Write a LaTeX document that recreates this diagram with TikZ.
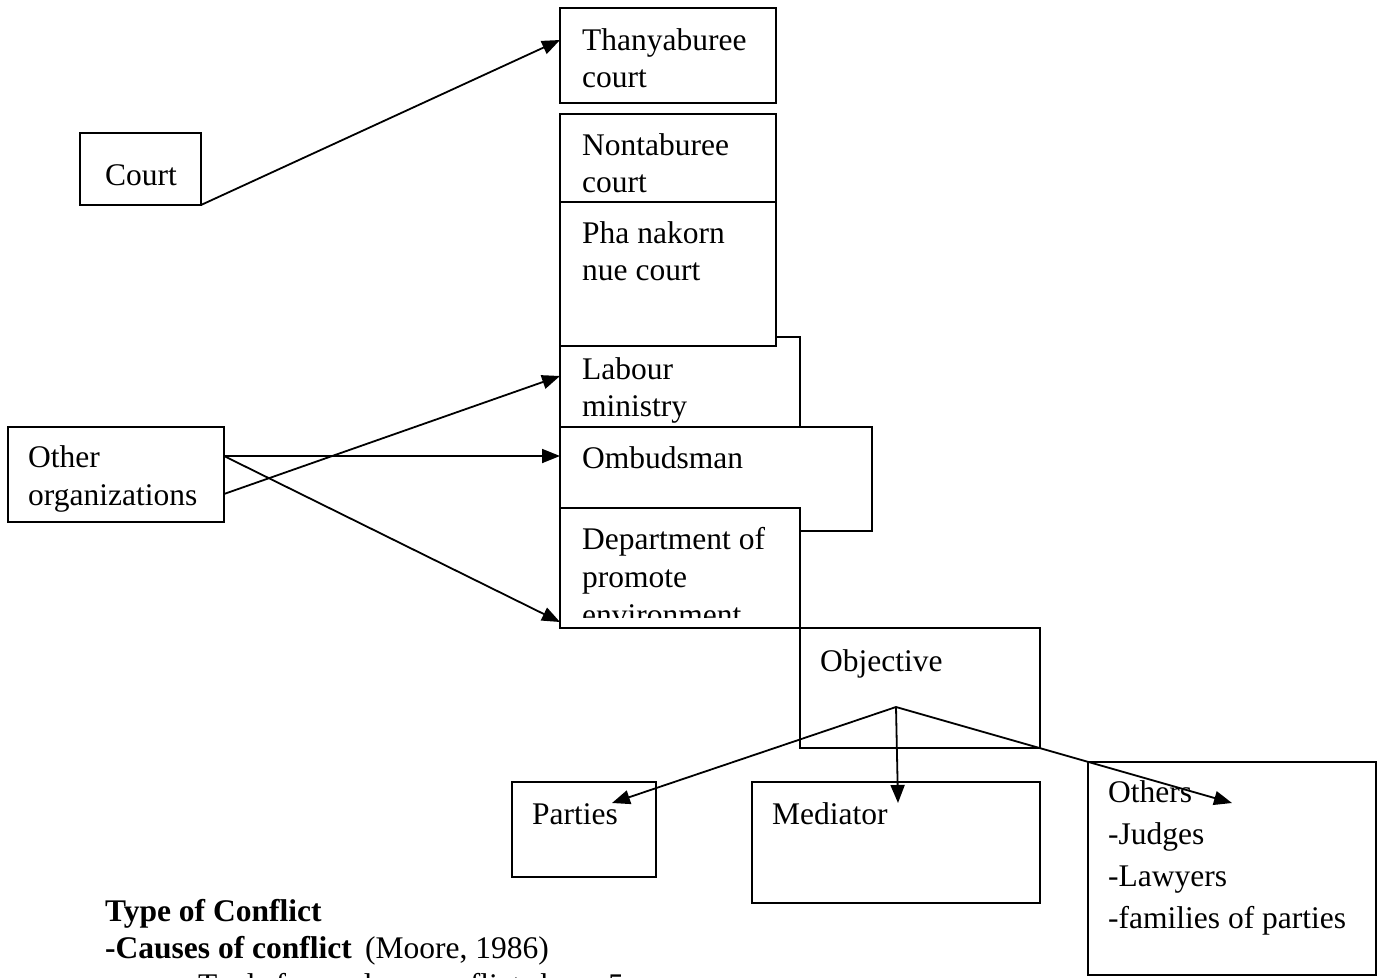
\documentclass[tikz,border=0pt]{standalone}
\usepackage{fontspec}
\setmainfont{Liberation Serif}
\usetikzlibrary{arrows.meta}
\begin{document}
\begin{tikzpicture}[x=1pt,y=-1pt,
  box/.style={draw, line width=1.9pt, fill=white, inner sep=0pt, outer sep=0pt, anchor=north west},
  txt/.style={anchor=base west, inner sep=0pt, font=\fontsize{31.5}{38}\selectfont},
  arr/.style={line width=1.8pt, -{Triangle[length=18pt,width=14pt]}}]
\useasboundingbox (0,0) rectangle (1378,977);
\clip (0,0) rectangle (1378,977);
\fill[white] (0,0) rectangle (1378,977);
% boxes
\node[box, minimum width=121pt, minimum height=72pt] (court) at (80,133) {};
\node[box, minimum width=216pt, minimum height=95pt] (thany) at (560,8) {};
\node[box, minimum width=216pt, minimum height=88pt] (nonta) at (560,114) {};
\node[box, minimum width=240pt, minimum height=90pt] (labour) at (560,337) {};
\node[box, minimum width=216pt, minimum height=144pt] (pha) at (560,202) {};
\node[box, minimum width=312pt, minimum height=104pt] (omb) at (560,427) {};
\node[box, minimum width=240pt, minimum height=120pt] (dept) at (560,508) {};
\node[box, minimum width=240pt, minimum height=120pt] (obj) at (800,628) {};
\node[box, minimum width=144pt, minimum height=95pt] (parties) at (512,782) {};
\node[box, minimum width=288pt, minimum height=121pt] (mediator) at (752,782) {};
\node[box, minimum width=288pt, minimum height=213pt] (others) at (1088,762) {};
\node[box, minimum width=216pt, minimum height=95pt] (otherorg) at (8,427) {};
% texts
\node[txt] (tcourt) at (105,185) {Court};
\node[txt] (tthany1) at (582,50) {Thanyaburee};
\node[txt] (tthany2) at (582,87) {court};
\node[txt] (tnonta1) at (582,155) {Nontaburee};
\node[txt] (tnonta2) at (582,192) {court};
\node[txt] (tpha1) at (582,243) {Pha nakorn};
\node[txt] (tpha2) at (582,280) {nue court};
\node[txt] (tlab1) at (582,379) {Labour};
\node[txt] (tlab2) at (582,416) {ministry};
\node[txt] (toth1) at (28,467) {Other};
\node[txt] (toth2) at (28,505) {organizations};
\node[txt] (tomb) at (582,468) {Ombudsman};
\begin{scope}
\clip (560,508) rectangle (800,617);
\node[txt] (tdep1) at (582,549) {Department of};
\node[txt] (tdep2) at (582,587) {promote};
\node[txt] (tdep3) at (582,625) {environment};
\end{scope}
\node[txt] (tobj) at (820,671) {Objective};
\node[txt] (tpar) at (532,824) {Parties};
\node[txt] (tmed) at (772,824) {Mediator};
\node[txt] (tot1) at (1108,802) {Others};
\node[txt] (tot2) at (1108,844) {-Judges};
\node[txt] (tot3) at (1108,886) {-Lawyers};
\node[txt] (tot4) at (1108,928) {-families of parties};
\node[txt] (ttype) at (105,921) {\bfseries Type of Conflict};
\node[txt] (tcause) at (105,958) {\bfseries -Causes of conflict};
\node[txt] (tmoore) at (365,958) {(Moore, 1986)};
\node[txt] (ttools) at (198,995) {Tools for analyze conflicts have 5};
% connectors
\draw[arr] (court.south east) -- ([yshift=15.5pt]thany.west);
\draw[arr] ([yshift=-19.5pt]otherorg.east) -- ([yshift=6pt]labour.west);
\draw[arr] ([yshift=18.5pt]otherorg.east) -- ([yshift=23pt]omb.west);
\draw[arr] ([yshift=18.5pt]otherorg.east) -- ([yshift=-54pt]dept.west);
\coordinate (o) at ([xshift=-24pt,yshift=-19pt]obj.center);
\coordinate (pend) at ([xshift=28pt,yshift=26.5pt]parties.center);
\coordinate (mend) at ([xshift=2pt,yshift=39.5pt]mediator.center);
\coordinate (oend) at ([yshift=65.5pt]others.center);
\draw[arr] (o) -- (pend);
\draw[arr] (o) -- (mend);
\draw[arr] (o) -- (oend);
\end{tikzpicture}
\end{document}
